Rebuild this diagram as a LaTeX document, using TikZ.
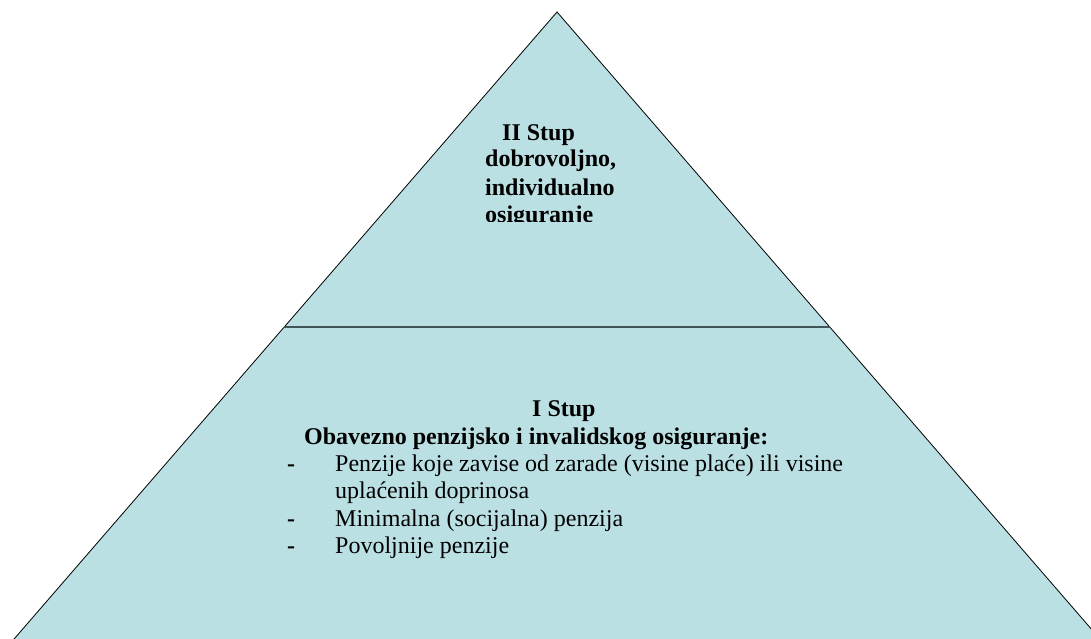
\documentclass[tikz,border=0pt]{standalone}
\usepackage{fontspec}
\setmainfont{Liberation Serif}
\usetikzlibrary{positioning}
\usetikzlibrary{calc}
\definecolor{stupfill}{RGB}{187,224,227}
\definecolor{stupline}{RGB}{65,85,88}

\begin{document}
\begin{tikzpicture}[x=1pt,y=-1pt,
    txt/.style={anchor=base west,inner sep=0pt,font=\fontsize{24}{27}\selectfont},
    btxt/.style={txt,font=\fontsize{24}{27}\selectfont\bfseries}]
    \useasboundingbox (0,0) rectangle (1091,639);
    \clip (0,0) rectangle (1091,639);
    \fill[white] (0,0) rectangle (1091,639);
    % piramida
    \draw[fill=stupfill,line width=0.8pt] (557,12) coordinate (T) -- (-50,713) coordinate (L) -- (1164,713) coordinate (R) -- cycle;
    \draw[stupline,line width=2pt] ($(T)!0.4494!(L)$) coordinate (D1) -- ($(T)!0.4494!(R)$) coordinate (D2);
    % II stup
    \node[btxt] (stupII) at (502,140.6) {II Stup};
    \node[btxt] (dobro) at (485,167) {dobrovoljno,};
    \node[btxt] (indiv) at (485,195) {individualno};
    \begin{scope}
        \clip (400,200) rectangle (700,221);
        \node[btxt] (osig) at (485,222) {osiguranje};
    \end{scope}
    % I stup
    \node[btxt] (stupI) at (532,416) {I Stup};
    \node[btxt] (obav) at (304,444) {Obavezno penzijsko i invalidskog osiguranje:};
    \node[btxt] (dashA) at (287,471) {-};
    \node[txt] (penA) at (335,471) {Penzije koje zavise od zarade (visine plaće) ili visine};
    \node[txt] (penAb) at (335,498) {uplaćenih doprinosa};
    \node[btxt] (dashB) at (287,526) {-};
    \node[txt] (penB) at (335,526) {Minimalna (socijalna) penzija};
    \node[btxt] (dashC) at (287,553) {-};
    \node[txt] (penC) at (335,553) {Povoljnije penzije};
\end{tikzpicture}
\end{document}
